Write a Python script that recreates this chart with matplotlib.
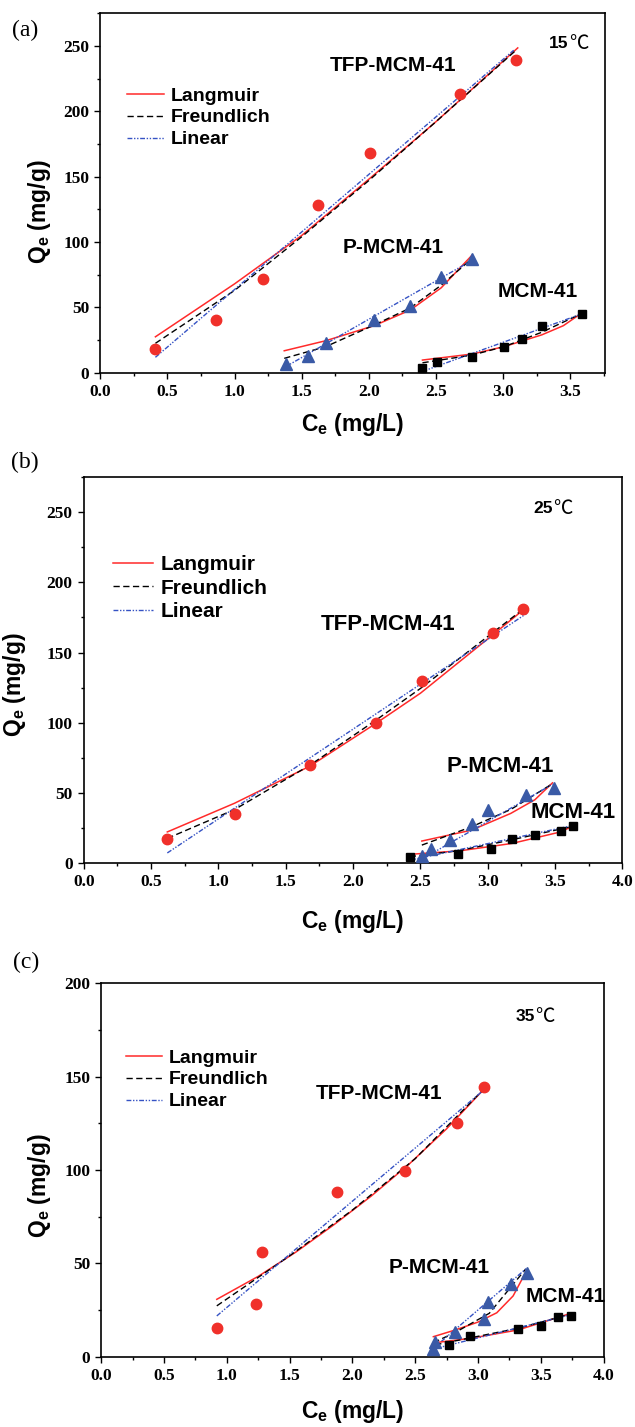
import matplotlib
matplotlib.use("Agg")
import matplotlib.pyplot as plt
from matplotlib.ticker import MultipleLocator

plt.rcParams["mathtext.fontset"] = "custom"
plt.rcParams["mathtext.rm"] = "Liberation Sans"
plt.rcParams["mathtext.bf"] = "Liberation Sans:bold"

# ---- (a) 15 C ----
TFP_A_X = [0.41, 0.86, 1.21, 1.62, 2.01, 2.68, 3.10]
TFP_A_Y = [18, 40, 72, 128, 168, 213, 239]
P_A_X = [1.38, 1.55, 1.68, 2.04, 2.31, 2.54, 2.77]
P_A_Y = [7, 13, 23, 40, 51, 73, 87]
MCM_A_X = [2.40, 2.51, 2.77, 3.01, 3.14, 3.29, 3.59]
MCM_A_Y = [4, 8, 12, 20, 26, 36, 45]

TFP_A_LANG_X = [0.41, 1.0, 1.5, 2.0, 2.5, 3.11]
TFP_A_LANG_Y = [27.5, 68, 105, 148, 192, 248.5]
TFP_A_FREU_X = [0.41, 1.0, 1.5, 2.0, 2.5, 3.10]
TFP_A_FREU_Y = [22.5, 63, 104, 147, 192, 247]
TFP_A_LIN_X = [0.41, 3.08]
TFP_A_LIN_Y = [11.8, 246.7]
P_A_LANG_X = [1.37, 1.68, 2.04, 2.31, 2.54, 2.77]
P_A_LANG_Y = [16.8, 24.5, 36, 48, 65, 90]
P_A_FREU_X = [1.37, 1.68, 2.04, 2.31, 2.54, 2.77]
P_A_FREU_Y = [11, 20, 36.5, 49.6, 67, 87.4]
P_A_LIN_X = [1.37, 2.77]
P_A_LIN_Y = [4, 86]
MCM_A_LANG_X = [2.40, 2.77, 3.01, 3.29, 3.45, 3.60]
MCM_A_LANG_Y = [9.7, 14.3, 20, 29, 36, 46.6]
MCM_A_FREU_X = [2.40, 2.77, 3.01, 3.29, 3.60]
MCM_A_FREU_Y = [7.6, 13.5, 20, 31, 46]
MCM_A_LIN_X = [2.40, 3.60]
MCM_A_LIN_Y = [1, 45.5]

# ---- (b) 25 C ----
TFP_B_X = [0.62, 1.12, 1.68, 2.17, 2.51, 3.04, 3.26]
TFP_B_Y = [17, 35, 70, 100, 130, 164, 181]
P_B_X = [2.51, 2.58, 2.72, 2.88, 3.00, 3.28, 3.49]
P_B_Y = [4.5, 9.6, 16, 28, 37.6, 48.3, 53]
MCM_B_X = [2.42, 2.78, 3.02, 3.18, 3.35, 3.54, 3.63]
MCM_B_Y = [4, 6, 10, 17, 20, 23, 26]

TFP_B_LANG_X = [0.62, 1.12, 1.68, 2.17, 2.50, 2.99, 3.29]
TFP_B_LANG_Y = [22, 42.5, 69, 99.5, 121, 159, 182.5]
TFP_B_FREU_X = [0.62, 1.12, 1.68, 2.17, 2.50, 3.27]
TFP_B_FREU_Y = [17.4, 38, 69.7, 101.8, 124.4, 181.5]
TFP_B_LIN_X = [0.62, 3.29]
TFP_B_LIN_Y = [7, 178]
P_B_LANG_X = [2.51, 2.88, 3.17, 3.35, 3.48]
P_B_LANG_Y = [15.5, 23.3, 35.2, 45, 57]
P_B_FREU_X = [2.51, 2.88, 3.17, 3.48]
P_B_FREU_Y = [12.6, 25.7, 38, 56.4]
P_B_LIN_X = [2.50, 3.48]
P_B_LIN_Y = [2, 56]
MCM_B_LANG_X = [2.42, 2.79, 3.18, 3.54, 3.65]
MCM_B_LANG_Y = [6, 8.5, 13.8, 22, 27]
MCM_B_FREU_X = [2.42, 2.78, 3.16, 3.65]
MCM_B_FREU_Y = [4.3, 8.6, 16, 26.4]
MCM_B_LIN_X = [2.43, 3.65]
MCM_B_LIN_Y = [2, 27]

# ---- (c) 35 C ----
TFP_C_X = [0.92, 1.23, 1.28, 1.88, 2.42, 2.83, 3.05]
TFP_C_Y = [15.4, 28.4, 56, 88, 99.5, 125, 144.5]
P_C_X = [2.64, 2.66, 2.82, 3.05, 3.08, 3.26, 3.39]
P_C_Y = [4, 8, 13, 20, 29, 39, 45]
MCM_C_X = [2.77, 2.94, 3.32, 3.50, 3.64, 3.74]
MCM_C_Y = [6, 11, 15, 16.5, 21, 22]

TFP_C_LANG_X = [0.92, 1.25, 1.55, 1.85, 2.15, 2.45, 2.75, 3.05]
TFP_C_LANG_Y = [30.7, 43, 56, 70.5, 86, 103, 122, 143.4]
TFP_C_FREU_X = [0.92, 1.5, 2.0, 2.5, 3.05]
TFP_C_FREU_Y = [27.2, 54, 78.5, 106, 143.5]
TFP_C_LIN_X = [0.92, 3.05]
TFP_C_LIN_Y = [21.8, 143]
P_C_LANG_X = [2.645, 2.82, 3.00, 3.15, 3.28, 3.39]
P_C_LANG_Y = [10.7, 14.3, 18.5, 23.5, 32.5, 46.4]
P_C_FREU_X = [2.645, 2.82, 3.09, 3.38]
P_C_FREU_Y = [7.5, 13, 23.2, 46.9]
P_C_LIN_X = [2.63, 3.39]
P_C_LIN_Y = [3.6, 47.5]
MCM_C_LANG_X = [2.66, 2.94, 3.32, 3.74]
MCM_C_LANG_Y = [7.5, 9.8, 14.3, 23.2]
MCM_C_FREU_X = [2.66, 3.32, 3.74]
MCM_C_FREU_Y = [6.3, 15.2, 22.8]
MCM_C_LIN_X = [2.67, 3.74]
MCM_C_LIN_Y = [4.5, 22.5]

MATERIALS = ["TFP-MCM-41", "P-MCM-41", "MCM-41"]
MODELS = ["Langmuir", "Freundlich", "Linear"]
TEMPS = ["15", "25", "35"]
PANEL_TAGS = ["(a)", "(b)", "(c)"]

RED = "#f0302a"
BLUE_MK = "#3a5aa6"
BLUE_LN = "#3552c4"
MODEL_STYLE = {
    "Langmuir": dict(color="#ff2a2a", lw=1.1, ls="-"),
    "Freundlich": dict(color="black", lw=1.0, ls=(0, (4.5, 2.5))),
    "Linear": dict(color=BLUE_LN, lw=1.0, ls=(0, (3.5, 1.2, 1, 1.2, 1, 1.2))),
}
MARKERS = {
    "TFP-MCM-41": dict(marker="o", color=RED, ms=7.5),
    "P-MCM-41": dict(marker="^", color=BLUE_MK, ms=8),
    "MCM-41": dict(marker="s", color="black", ms=6),
}

panels = [
    dict(
        rect=[0.1581, 0.7388, 0.7946, 0.2519], xlim=(0, 3.76), ylim=(0, 275),
        points={"TFP-MCM-41": (TFP_A_X, TFP_A_Y), "P-MCM-41": (P_A_X, P_A_Y), "MCM-41": (MCM_A_X, MCM_A_Y)},
        fits={
            "TFP-MCM-41": [(TFP_A_LANG_X, TFP_A_LANG_Y), (TFP_A_FREU_X, TFP_A_FREU_Y), (TFP_A_LIN_X, TFP_A_LIN_Y)],
            "P-MCM-41": [(P_A_LANG_X, P_A_LANG_Y), (P_A_FREU_X, P_A_FREU_Y), (P_A_LIN_X, P_A_LIN_Y)],
            "MCM-41": [(MCM_A_LANG_X, MCM_A_LANG_Y), (MCM_A_FREU_X, MCM_A_FREU_Y), (MCM_A_LIN_X, MCM_A_LIN_Y)],
        },
        labels={"TFP-MCM-41": (2.18, 235), "P-MCM-41": (2.18, 96), "MCM-41": (3.26, 62)},
        temp=(3.49, 252), legend=(0.052, 0.795), legfs=14, hl=1.9, annfs=15,
        ylab=(-0.094, 0.447), xlab=-0.106, tag=(25, 30),
    ),
    dict(
        rect=[0.1320, 0.3954, 0.8483, 0.2701], xlim=(0, 4.0), ylim=(0, 275),
        points={"TFP-MCM-41": (TFP_B_X, TFP_B_Y), "P-MCM-41": (P_B_X, P_B_Y), "MCM-41": (MCM_B_X, MCM_B_Y)},
        fits={
            "TFP-MCM-41": [(TFP_B_LANG_X, TFP_B_LANG_Y), (TFP_B_FREU_X, TFP_B_FREU_Y), (TFP_B_LIN_X, TFP_B_LIN_Y)],
            "P-MCM-41": [(P_B_LANG_X, P_B_LANG_Y), (P_B_FREU_X, P_B_FREU_Y), (P_B_LIN_X, P_B_LIN_Y)],
            "MCM-41": [(MCM_B_LANG_X, MCM_B_LANG_Y), (MCM_B_FREU_X, MCM_B_FREU_Y), (MCM_B_LIN_X, MCM_B_LIN_Y)],
        },
        labels={"TFP-MCM-41": (2.256, 170), "P-MCM-41": (3.09, 69), "MCM-41": (3.635, 36)},
        temp=(3.483, 253), legend=(0.055, 0.798), legfs=15, hl=1.92, annfs=16,
        ylab=(-0.1036, 0.461), xlab=-0.117, tag=(25, 462),
    ),
    dict(
        rect=[0.1595, 0.0493, 0.7909, 0.2617], xlim=(0, 4.0), ylim=(0, 200),
        points={"TFP-MCM-41": (TFP_C_X, TFP_C_Y), "P-MCM-41": (P_C_X, P_C_Y), "MCM-41": (MCM_C_X, MCM_C_Y)},
        fits={
            "TFP-MCM-41": [(TFP_C_LANG_X, TFP_C_LANG_Y), (TFP_C_FREU_X, TFP_C_FREU_Y), (TFP_C_LIN_X, TFP_C_LIN_Y)],
            "P-MCM-41": [(P_C_LANG_X, P_C_LANG_Y), (P_C_FREU_X, P_C_FREU_Y), (P_C_LIN_X, P_C_LIN_Y)],
            "MCM-41": [(MCM_C_LANG_X, MCM_C_LANG_Y), (MCM_C_FREU_X, MCM_C_FREU_Y), (MCM_C_LIN_X, MCM_C_LIN_Y)],
        },
        labels={"TFP-MCM-41": (2.21, 141), "P-MCM-41": (2.69, 48), "MCM-41": (3.70, 32)},
        temp=(3.454, 182), legend=(0.05, 0.824), legfs=14, hl=1.85, annfs=15,
        ylab=(-0.0968, 0.457), xlab=-0.112, tag=(26, 962),
    ),
]


def draw_panel(fig, p, temp, tag):
    ax = fig.add_axes(p["rect"])
    handles = []
    for mat in MATERIALS:
        for model, (fx, fy) in zip(MODELS, p["fits"][mat]):
            (ln,) = ax.plot(fx, fy, label=model, zorder=2, **MODEL_STYLE[model])
            if mat == "TFP-MCM-41":
                handles.append(ln)
        px, py = p["points"][mat]
        m = MARKERS[mat]
        ax.plot(px, py, ls="none", marker=m["marker"], ms=m["ms"], color=m["color"],
                mec=m["color"], zorder=3)
        lx, ly = p["labels"][mat]
        ax.text(lx, ly, mat, ha="center", va="center", fontsize=p["annfs"],
                family="Liberation Sans", weight="bold")

    tx, ty = p["temp"]
    ax.text(tx, ty, temp, ha="right", va="center", fontsize=12.5,
            family="Liberation Sans", weight="bold")
    ax.text(tx, ty, "\u2103", ha="left", va="center", fontsize=14,
            family=["Noto Sans CJK SC", "DejaVu Sans"], weight="light")

    ax.legend(handles=handles, loc="upper left", bbox_to_anchor=p["legend"], frameon=False,
              borderpad=0, borderaxespad=0, handlelength=p["hl"], handletextpad=0.35,
              labelspacing=0.22, prop=dict(family="Liberation Sans", weight="bold", size=p["legfs"]))

    ax.set_xlim(*p["xlim"])
    ax.set_ylim(*p["ylim"])
    ax.xaxis.set_major_locator(MultipleLocator(0.5))
    ax.xaxis.set_minor_locator(MultipleLocator(0.25))
    ax.yaxis.set_major_locator(MultipleLocator(50))
    ax.yaxis.set_minor_locator(MultipleLocator(25))
    ax.tick_params(which="both", direction="out", top=False, right=False, width=1.0)
    ax.tick_params(which="major", length=4.5)
    ax.tick_params(which="minor", length=2.5)
    for lab in ax.get_xticklabels() + ax.get_yticklabels():
        lab.set_family("Liberation Serif")
        lab.set_weight("bold")
        lab.set_fontsize(12.5)
    for sp in ax.spines.values():
        sp.set_linewidth(1.2)

    ax.set_xlabel(r"C$_\mathregular{e}$ (mg/L)", family="Liberation Sans", weight="bold", fontsize=16.5)
    ax.set_ylabel(r"Q$_\mathregular{e}$ (mg/g)", family="Liberation Sans", weight="bold", fontsize=16.5)
    ax.xaxis.set_label_coords(0.5, p["xlab"])
    ax.yaxis.set_label_coords(*p["ylab"])

    fig.text(p["tag"][0] / 635, 1 - p["tag"][1] / 1427, tag, ha="center", va="center",
             family="Liberation Serif", fontsize=17)
    return ax


fig = plt.figure(figsize=(6.35, 14.27), dpi=100)
for p, temp, tag in zip(panels, TEMPS, PANEL_TAGS):
    draw_panel(fig, p, temp, tag)
fig.savefig("out.png", dpi=100)
